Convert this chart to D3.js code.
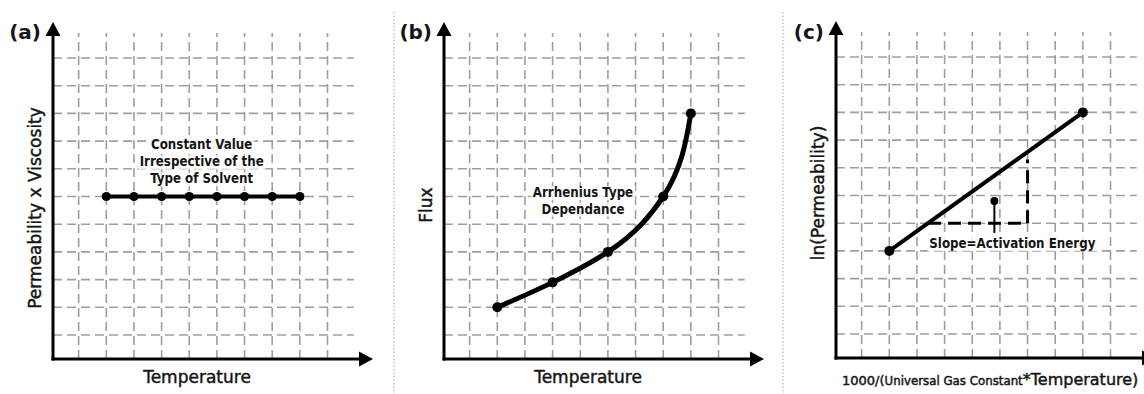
<!DOCTYPE html>
<html>
<head>
<meta charset="utf-8">
<script src="https://cdn.jsdelivr.net/npm/d3@7"></script>
<style>
  html, body { margin: 0; padding: 0; background: #fff; }
  svg { display: block; }
  text { font-family: "DejaVu Sans", sans-serif; fill: #151515; }
  .title { stroke: #151515; stroke-width: 0.45px; }
  .note { font-family: "DejaVu Sans Condensed", "DejaVu Sans", sans-serif; font-weight: bold; font-size: 13.2px; }
</style>
</head>
<body>
<div id="chart"></div>
<script>
// grid positions (same for every panel)
const gridX = [1, 2, 3, 4, 5, 6, 7, 8, 9, 10];
const gridY = [1, 2, 3, 4, 5, 6, 7, 8, 9, 10, 11];

// (a) constant value
const aX = [2, 3, 4, 5, 6, 7, 8, 9];
const aY = [6, 6, 6, 6, 6, 6, 6, 6];
const aNote = ["Constant Value", "Irrespective of the", "Type of Solvent"];

// (b) Arrhenius curve
const bX = [2, 4, 6, 8, 9];
const bY = [2, 2.9, 4, 6, 9];
const bNote = ["Arrhenius Type", "Dependance"];

// (c) ln plot
const cX = [2, 9];
const cY = [4, 9];
const cRunX = [3.4, 7], cRunY = [5, 5];
const cRiseX = [7, 7], cRiseY = [5, 7.3];
const cPinX = [5.8, 5.8], cPinY = [5.8, 4.65];
const cNote = ["Slope=Activation Energy"];

const panels = [
  { tag: "(a)", left: 53, base: 359, ytitle: "Permeability x Viscosity", ytitleY: 208 },
  { tag: "(b)", left: 444, base: 359, ytitle: "Flux", ytitleY: 205 },
  { tag: "(c)", left: 836, base: 358, ytitle: "ln(Permeability)", ytitleY: 193 }
];

const W = 1144, H = 394, unit = 27.65;

const svg = d3.select("#chart").append("svg")
  .attr("width", W).attr("height", H);

// dotted separators
[394, 783].forEach(sx => {
  svg.append("line")
    .attr("x1", sx).attr("x2", sx).attr("y1", 12).attr("y2", H)
    .attr("stroke", "#b5b5b5").attr("stroke-width", 1.2)
    .attr("stroke-dasharray", "1.5,2");
});

function scalesFor(p) {
  const x = d3.scaleLinear().domain([0, 11]).range([p.left - 2, p.left - 2 + unit * 11]);
  const y = d3.scaleLinear().domain([0, 11]).range([p.base + 3.7, p.base + 3.7 - 27.7 * 11]);
  return { x, y };
}

function drawFrame(p, x, y) {
  const g = svg.append("g");
  // grid
  g.selectAll(".vg").data(gridX).join("line")
    .attr("x1", d => x(d)).attr("x2", d => x(d))
    .attr("y1", p.base).attr("y2", y(11.9))
    .attr("stroke", "#9e9e9e").attr("stroke-width", 1.6)
    .attr("stroke-dasharray", "9,5");
  g.selectAll(".hg").data(gridY).join("line")
    .attr("x1", p.left).attr("x2", x(10.95))
    .attr("y1", d => y(d)).attr("y2", d => y(d))
    .attr("stroke", "#9e9e9e").attr("stroke-width", 1.6)
    .attr("stroke-dasharray", "9,5");

  // axes with arrowheads
  const topY = p.base - 337, rightX = p.left + 320;
  g.append("line").attr("x1", p.left).attr("x2", p.left)
    .attr("y1", p.base + 1.5).attr("y2", topY + 12)
    .attr("stroke", "#000").attr("stroke-width", 3);
  g.append("line").attr("x1", p.left - 1.5).attr("x2", rightX - 12)
    .attr("y1", p.base).attr("y2", p.base)
    .attr("stroke", "#000").attr("stroke-width", 3);
  g.append("path")
    .attr("d", `M${p.left},${topY} L${p.left - 7.5},${topY + 14} L${p.left + 7.5},${topY + 14} Z`)
    .attr("fill", "#000");
  g.append("path")
    .attr("d", `M${rightX},${p.base} L${rightX - 14},${p.base - 7.5} L${rightX - 14},${p.base + 7.5} Z`)
    .attr("fill", "#000");

  // panel tag
  g.append("text").attr("x", p.left - 12).attr("y", 39)
    .attr("text-anchor", "end").attr("font-size", 20).attr("font-weight", "bold")
    .text(p.tag);

  // y title
  g.append("text").attr("class", "title")
    .attr("transform", `translate(${p.left - 12},${p.ytitleY}) rotate(-90)`)
    .attr("text-anchor", "middle").attr("font-size", 17)
    .text(p.ytitle);
  return g;
}

function note(g, lines, cx, cy, step) {
  lines.forEach((t, i) => {
    const txt = g.append("text").attr("class", "note")
      .attr("x", cx).attr("y", cy + i * step)
      .attr("text-anchor", "middle").text(t);
    const bb = txt.node().getBBox();
    g.insert("rect", () => txt.node())
      .attr("x", bb.x - 2).attr("y", bb.y + 1).attr("width", bb.width + 4).attr("height", bb.height - 1)
      .attr("fill", "#fff").attr("opacity", 0.8);
  });
}

function dots(g, xs, ys, x, y, r) {
  g.selectAll(null).data(xs).join("circle")
    .attr("cx", d => x(d)).attr("cy", (d, i) => y(ys[i])).attr("r", r)
    .attr("fill", "#000");
}

// ---- panel (a)
{
  const p = panels[0], { x, y } = scalesFor(p);
  const g = drawFrame(p, x, y);
  note(g, aNote, x(5.45), y(7.7), 17);
  const pts = aX.map((d, i) => [d, aY[i]]);
  g.append("path").datum(pts)
    .attr("d", d3.line().x(d => x(d[0])).y(d => y(d[1])))
    .attr("fill", "none").attr("stroke", "#000").attr("stroke-width", 4);
  dots(g, aX, aY, x, y, 4.6);
  g.append("text").attr("class", "title").attr("x", p.left + 144).attr("y", 383)
    .attr("text-anchor", "middle").attr("font-size", 17).text("Temperature");
}

// ---- panel (b)
{
  const p = panels[1], { x, y } = scalesFor(p);
  const g = drawFrame(p, x, y);
  note(g, bNote, x(5.1), y(5.98), 16.5);
  const pts = bX.map((d, i) => [d, bY[i]]);
  g.append("path").datum(pts)
    .attr("d", d3.line().x(d => x(d[0])).y(d => y(d[1])).curve(d3.curveMonotoneY))
    .attr("fill", "none").attr("stroke", "#000").attr("stroke-width", 5)
    .attr("stroke-linecap", "round");
  dots(g, bX, bY, x, y, 5);
  g.append("text").attr("class", "title").attr("x", p.left + 144).attr("y", 383)
    .attr("text-anchor", "middle").attr("font-size", 17).text("Temperature");
}

// ---- panel (c)
{
  const p = panels[2], { x, y } = scalesFor(p);
  const g = drawFrame(p, x, y);
  const ln = d3.line().x(d => x(d[0])).y(d => y(d[1]));
  g.append("path").datum(cRunX.map((d, i) => [d, cRunY[i]]))
    .attr("d", ln).attr("fill", "none").attr("stroke", "#000")
    .attr("stroke-width", 3).attr("stroke-dasharray", "13,7");
  g.append("path").datum(cRiseX.map((d, i) => [d, cRiseY[i]]))
    .attr("d", ln).attr("fill", "none").attr("stroke", "#000")
    .attr("stroke-width", 3).attr("stroke-dasharray", "13,7");
  g.append("path").datum(cX.map((d, i) => [d, cY[i]]))
    .attr("d", ln).attr("fill", "none").attr("stroke", "#000").attr("stroke-width", 4);
  dots(g, cX, cY, x, y, 5);
  note(g, cNote, x(6.45), y(4.1), 0);
  g.append("path").datum(cPinX.map((d, i) => [d, cPinY[i]]))
    .attr("d", ln).attr("fill", "none").attr("stroke", "#000").attr("stroke-width", 2);
  dots(g, cPinX.slice(0, 1), cPinY.slice(0, 1), x, y, 4);

  const t = g.append("text").attr("class", "title").attr("x", 842).attr("y", 385);
  t.append("tspan").attr("font-size", 13).text("1000/(");
  t.append("tspan").attr("font-size", 11.8).text("Universal Gas Constant");
  t.append("tspan").attr("font-size", 16).text("*Temperature)");
}
</script>
</body>
</html>
